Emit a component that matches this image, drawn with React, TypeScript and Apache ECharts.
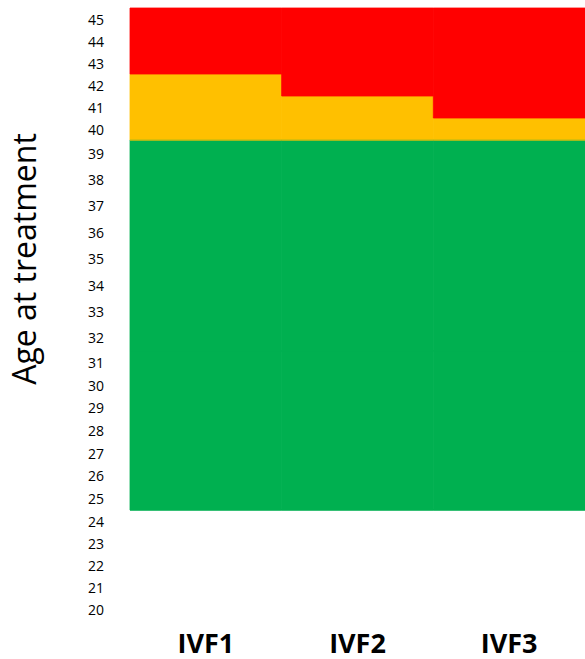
import React, { useEffect, useRef } from "react";
import * as echarts from "echarts";

// ---- data ----
const categories = ["IVF1", "IVF2", "IVF3"];
const ageTicks = [20, 21, 22, 23, 24, 25, 26, 27, 28, 29, 30, 31, 32, 33, 34, 35, 36, 37, 38, 39, 40, 41, 42, 43, 44, 45];

// age bands per treatment (inclusive ages)
const greenFrom = [25, 25, 25];
const greenTo = [39, 39, 39];
const amberFrom = [40, 40, 40];
const amberTo = [42, 41, 40];
const redFrom = [43, 42, 41];
const redTo = [45, 45, 45];

const bands = [
  { name: "green", color: "#00B050", from: greenFrom, to: greenTo },
  { name: "amber", color: "#FFC000", from: amberFrom, to: amberTo },
  { name: "red", color: "#FF0000", from: redFrom, to: redTo },
];

// layout: vertical segments of the age axis (row heights differ)
const segments = [
  { lo: 39.5, hi: 45.5, top: 8, height: 132 },
  { lo: 31.5, hi: 39.5, top: 140, height: 211 },
  { lo: 24.5, hi: 31.5, top: 351, height: 159 },
  { lo: 19.5, hi: 24.5, top: 510, height: 110 },
];

const FONT = "'Open Sans', 'DejaVu Sans', sans-serif";

export default function App() {
  const ref = useRef<HTMLDivElement>(null);

  useEffect(() => {
    if (!ref.current) return;
    const chart = echarts.init(ref.current, undefined, { renderer: "svg" });

    const grids = segments.map((s) => ({
      left: 130,
      top: s.top,
      width: 459,
      height: s.height,
      containLabel: false,
    }));

    const xAxes = segments.map((_, i) => ({
      type: "category",
      gridIndex: i,
      data: categories,
      axisLine: { show: false },
      axisTick: { show: false },
      splitLine: { show: false },
      axisLabel: {
        show: i === segments.length - 1,
        fontFamily: FONT,
        fontWeight: "bold",
        fontSize: 27,
        lineHeight: 28,
        color: "#000",
        margin: 8,
      },
    }));

    const yAxes = segments.map((s, i) => ({
      type: "value",
      gridIndex: i,
      min: s.lo,
      max: s.hi,
      axisLine: { show: false },
      axisTick: { show: false },
      splitLine: { show: false },
      axisLabel: {
        customValues: ageTicks.filter((a) => a > s.lo && a < s.hi),
        fontFamily: FONT,
        fontSize: 14,
        color: "#000",
        margin: 26,
        padding: [5, 0, 0, 0],
        formatter: (v: number) => String(Math.round(v)),
      },
    }));

    const series: any[] = [];
    segments.forEach((_, gi) => {
      bands.forEach((b) => {
        series.push({
          type: "custom",
          name: b.name,
          xAxisIndex: gi,
          yAxisIndex: gi,
          silent: true,
          encode: { x: 0, y: [1, 2] },
          data: categories.map((_, ci) => [ci, b.from[ci], b.to[ci]]),
          renderItem: (params: any, api: any) => {
            const ci = api.value(0);
            const lo = api.value(1) - 0.5;
            const hi = api.value(2) + 0.5;
            const pTop = api.coord([ci, hi]);
            const pBot = api.coord([ci, lo]);
            const w = api.size([1, 0])[0];
            const rect = echarts.graphic.clipRectByRect(
              { x: pTop[0] - w / 2, y: pTop[1], width: w, height: pBot[1] - pTop[1] },
              {
                x: params.coordSys.x,
                y: params.coordSys.y,
                width: params.coordSys.width,
                height: params.coordSys.height,
              }
            );
            if (!rect) return null;
            return {
              type: "rect",
              shape: rect,
              style: { fill: b.color, stroke: b.color, lineWidth: 0.8 },
            };
          },
        });
      });
    });

    chart.setOption({
      animation: false,
      grid: grids,
      xAxis: xAxes,
      yAxis: yAxes,
      series,
      graphic: [
        {
          type: "text",
          x: 23,
          y: 259,
          rotation: Math.PI / 2,
          style: {
            text: "Age at treatment",
            fontFamily: FONT,
            fontSize: 32,
            fill: "#000",
            align: "center",
            verticalAlign: "middle",
          },
        },
      ],
    });

    return () => chart.dispose();
  }, []);

  return (
    <div
      ref={ref}
      style={{ position: "absolute", left: 0, top: 0, width: 585, height: 659 }}
    />
  );
}
